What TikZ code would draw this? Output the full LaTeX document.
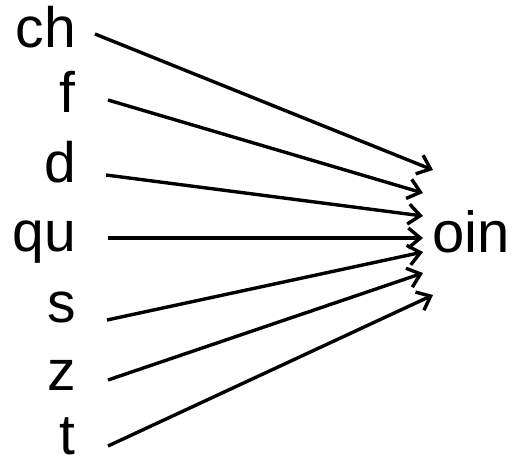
\documentclass[tikz,border=0pt]{standalone}
\usepackage{fontspec}
\setmainfont{Liberation Sans}
\usetikzlibrary{arrows.meta}
\begin{document}
\begin{tikzpicture}[x=1pt,y=-1pt,
  lbl/.style={font=\fontsize{57}{60}\selectfont, inner sep=0pt, anchor=base east},
  tgt/.style={font=\fontsize{58}{60}\selectfont, inner sep=0pt, anchor=base west},
  conn/.style={line width=3.4pt, -{Straight Barb[length=12pt,width=20pt]}}]
\useasboundingbox (0,0) rectangle (523,459);
\node[lbl] (ch) at (76,47) {ch};
\node[lbl] (f) at (76,112) {f};
\node[lbl] (d) at (76,182) {d};
\node[lbl] (qu) at (76,251) {qu};
\node[lbl] (s) at (76,322) {s};
\node[lbl] (z) at (76,390) {z};
\node[lbl] (t) at (76,454) {t};
\node[tgt] (oin) at (432,252) {oin};
\coordinate (sch) at (95,34);
\coordinate (sf) at (108,100);
\coordinate (sd) at (106,175);
\coordinate (squ) at (108,238);
\coordinate (ss) at (107,320);
\coordinate (sz) at (108,380);
\coordinate (st) at (108,446);
\coordinate (ech) at (433,170);
\coordinate (ef) at (423,193);
\coordinate (ed) at (423,216);
\coordinate (equ) at (423,238);
\coordinate (es) at (423,252);
\coordinate (ez) at (423,273);
\coordinate (et) at (433,295);
\draw[conn] (sch) -- (ech);
\draw[conn] (sf) -- (ef);
\draw[conn] (sd) -- (ed);
\draw[conn] (squ) -- (equ);
\draw[conn] (ss) -- (es);
\draw[conn] (sz) -- (ez);
\draw[conn] (st) -- (et);
\end{tikzpicture}
\end{document}
